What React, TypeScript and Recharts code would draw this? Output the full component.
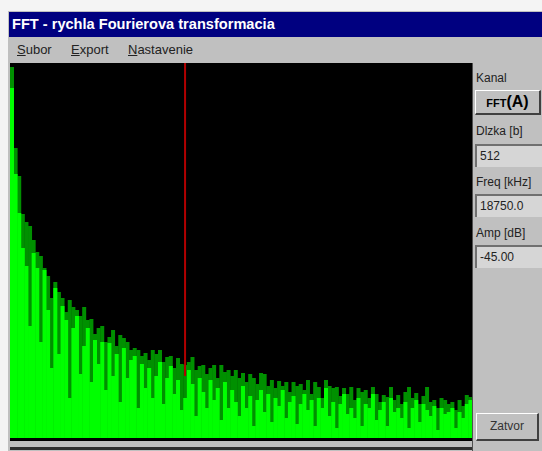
import React from "react";
import { ComposedChart, Bar, XAxis, YAxis, ReferenceLine } from "recharts";

// peak-hold levels (dark green), one per FFT bin, in screen-level units (0 = floor)
const PEAK = [
  371, 290, 262, 224, 216, 212, 198, 186, 182, 170, 162, 140, 156, 146, 140, 126,
  138, 131, 128, 122, 131, 118, 119, 104, 110, 112, 96, 101, 108, 92, 103, 100,
  96, 88, 90, 88, 82, 85, 78, 88, 84, 88, 76, 81, 82, 70, 80, 74,
  73, 76, 81, 68, 72, 73, 64, 70, 73, 60, 73, 66, 68, 62, 68, 60,
  65, 56, 64, 60, 54, 65, 64, 52, 58, 50, 57, 52, 56, 46, 56, 52,
  54, 48, 58, 44, 56, 51, 40, 58, 52, 50, 51, 42, 50, 44, 51, 38,
  50, 46, 48, 40, 51, 44, 36, 43, 41, 51, 38, 43, 34, 46, 51, 40,
  45, 34, 42, 51, 36, 38, 30, 40, 38, 34, 36, 28, 38, 32, 43, 41,
];

// current spectrum (bright green)
const CURRENT = [
  350, 264, 225, 190, 172, 112, 185, 170, 96, 168, 128, 70, 150, 84, 132, 118,
  40, 110, 122, 64, 92, 110, 56, 98, 74, 96, 48, 95, 62, 84, 36, 90,
  60, 78, 82, 30, 74, 50, 70, 40, 62, 76, 34, 60, 72, 44, 58, 28,
  40, 68, 54, 22, 60, 46, 30, 58, 38, 50, 18, 56, 30, 48, 36, 22,
  52, 30, 42, 12, 38, 48, 26, 44, 16, 40, 32, 48, 20, 36, 42, 14,
  34, 44, 28, 38, 12, 40, 30, 50, 22, 36, 10, 34, 44, 24, 30, 20,
  40, 12, 34, 30, 44, 18, 28, 36, 12, 40, 26, 30, 20, 36, 10, 30,
  38, 16, 34, 28, 22, 32, 8, 30, 24, 26, 30, 10, 26, 20, 34, 38,
];

const CURSOR_BIN = 48;
const CURSOR_LEVEL = 62;
const MENU = ["Subor", "Export", "Nastavenie"];

const data = PEAK.map((p, i) => ({ bin: i, peak: p, current: CURRENT[i] }));

const raised: React.CSSProperties = {
  position: "absolute",
  background: "#c0c0c0",
  borderTop: "1px solid #fff",
  borderLeft: "1px solid #fff",
  borderRight: "2px solid #404040",
  borderBottom: "2px solid #404040",
  boxSizing: "border-box",
};

const field: React.CSSProperties = {
  position: "absolute",
  left: 475,
  width: 80,
  height: 23,
  background: "#d6d6d6",
  borderTop: "2px solid #707070",
  borderLeft: "2px solid #707070",
  boxSizing: "border-box",
  fontSize: 12,
  paddingLeft: 3,
  lineHeight: "20px",
  color: "#222",
};

const label: React.CSSProperties = {
  position: "absolute",
  left: 476,
  fontSize: 12,
  color: "#222",
  whiteSpace: "nowrap",
};

export default function App() {
  return (
    <div
      style={{
        position: "fixed",
        left: 0,
        top: 0,
        width: 542,
        height: 451,
        overflow: "hidden",
        background: "#f4f4f4",
        fontFamily: '"Liberation Sans", Arial, sans-serif',
      }}
    >
      <div style={{ position: "absolute", left: 8, top: 11, width: 534, height: 440, background: "#c0c0c0" }} />
      <div
        style={{
          position: "absolute",
          left: 9,
          top: 12,
          width: 533,
          height: 25,
          background: "#000080",
          color: "#fff",
          fontWeight: "bold",
          fontSize: 14.6,
          lineHeight: "25px",
          paddingLeft: 3,
          boxSizing: "border-box",
          whiteSpace: "nowrap",
        }}
      >
        FFT - rychla Fourierova transformacia
      </div>
      {MENU.map((m, i) => (
        <div
          key={m}
          style={{
            position: "absolute",
            left: [17, 71, 128][i],
            top: 42,
            fontSize: 13,
            color: "#222",
          }}
        >
          <u>{m[0]}</u>
          {m.slice(1)}
        </div>
      ))}

      <div style={{ position: "absolute", left: 10, top: 63, width: 462, height: 378, background: "#000" }}>
        <ComposedChart
          width={462}
          height={375}
          data={data}
          margin={{ top: 0, right: 0, bottom: 0, left: 0 }}
          barCategoryGap={0}
        >
          <XAxis xAxisId="peak" dataKey="bin" type="category" hide />
          <XAxis xAxisId="current" dataKey="bin" type="category" hide />
          <YAxis domain={[0, 375]} allowDataOverflow hide />
          <Bar xAxisId="peak" dataKey="peak" fill="#009000" isAnimationActive={false} />
          <Bar xAxisId="current" dataKey="current" fill="#00ff00" isAnimationActive={false} />
          <ReferenceLine
            xAxisId="peak"
            segment={[
              { x: CURSOR_BIN, y: CURSOR_LEVEL },
              { x: CURSOR_BIN, y: 375 },
            ]}
            stroke="#b00000"
            strokeWidth={2}
          />
        </ComposedChart>
      </div>
      <div style={{ position: "absolute", left: 10, top: 447, width: 462, height: 3, background: "#303030" }} />
      <div style={{ position: "absolute", left: 472, top: 63, width: 1, height: 388, background: "#505050" }} />

      <div style={{ ...label, top: 71 }}>Kanal</div>
      <div style={{ ...raised, left: 475, top: 90, width: 66, height: 25, textAlign: "center", lineHeight: "22px" }}>
        <span style={{ fontWeight: "bold", fontSize: 11 }}>FFT</span>
        <span style={{ fontWeight: "bold", fontSize: 16 }}>(A)</span>
      </div>
      <div style={{ ...label, top: 124 }}>Dlzka [b]</div>
      <div style={{ ...field, top: 144 }}>512</div>
      <div style={{ ...label, top: 175 }}>Freq [kHz]</div>
      <div style={{ ...field, top: 194 }}>18750.0</div>
      <div style={{ ...label, top: 226 }}>Amp [dB]</div>
      <div style={{ ...field, top: 245 }}>-45.00</div>
      <div
        style={{
          ...raised,
          left: 476,
          top: 413,
          width: 63,
          height: 28,
          textAlign: "center",
          lineHeight: "25px",
          fontSize: 12,
          color: "#333",
        }}
      >
        Zatvor
      </div>
    </div>
  );
}
